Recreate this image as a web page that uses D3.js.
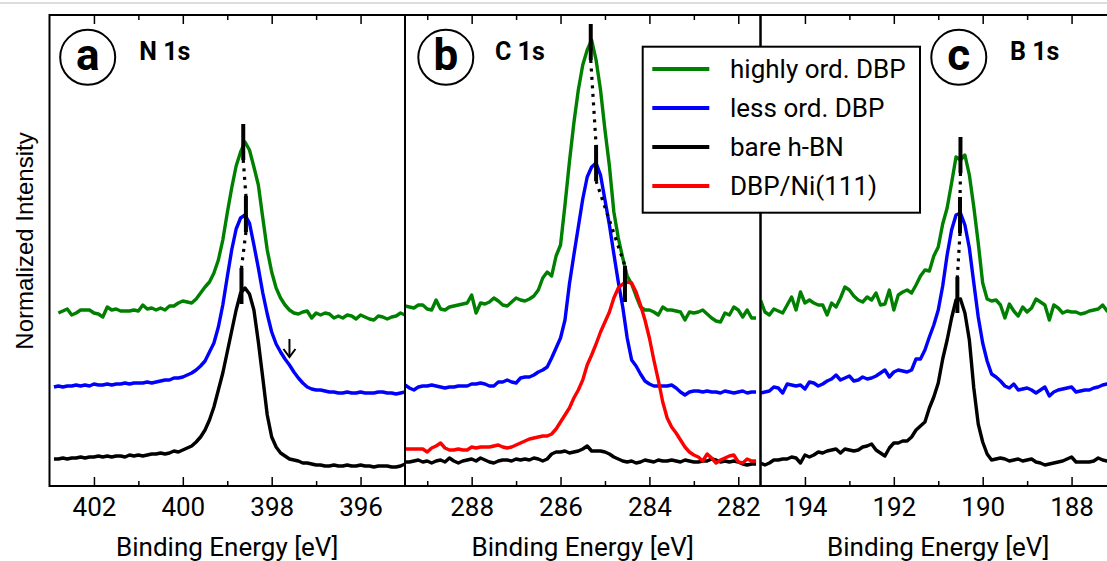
<!DOCTYPE html>
<html><head><meta charset="utf-8">
<script src="https://cdn.jsdelivr.net/npm/d3@7"></script>
<style>
html,body{margin:0;padding:0;background:#fff;}
svg{display:block;}
</style></head><body>
<svg id="chart" width="1107" height="561"></svg>
<script>
// ---------------- DATA ----------------
const seriesNames  = ["highly ord. DBP", "less ord. DBP", "bare h-BN", "DBP/Ni(111)"];
const seriesColors = ["#008000", "#0000ff", "#000000", "#ff0000"];

const panelLetters = ["a", "b", "c"];
const panelTitles  = ["N 1s", "C 1s", "B 1s"];
const panelDomains = [[403, 395], [289.5, 281.5], [195, 187]];

const majorTicksN = [402, 400, 398, 396];
const minorTicksN = [401, 399, 397];
const majorTicksC = [288, 286, 284, 282];
const minorTicksC = [289, 287, 285, 283];
const majorTicksB = [194, 192, 190, 188];
const minorTicksB = [193, 191, 189];

const xLabel = "Binding Energy [eV]";
const yLabel = "Normalized Intensity";
const stepEV = 0.1;          // sampling step of the spectra (eV)

// N 1s (intensity, arbitrary units incl. vertical offset), descending energy
const n1sGreenStart = 402.8;
const n1sGreen = [173,175,177,171,173,176,176,176,173,172,
  169,179,176,177,175,175,175,176,175,181,
  177,178,176,178,176,180,180,183,185,184,
  183,187,193,199,204,213,226,246,273,298,
  320,334,344,336,319,301,268,236,214,198,
  188,181,176,173,172,174,175,168,173,171,
  173,172,168,170,168,171,170,167,171,169,
  167,166,170,169,167,169,170,173,171];
const n1sBlueStart = 402.9;
const n1sBlue = [99,100,99,100,100,101,100,101,100,102,
  101,101,102,101,102,102,103,102,103,103,
  103,104,103,104,105,106,106,108,108,109,
  111,113,116,120,125,134,143,159,181,209,
  236,257,268,271,263,241,218,193,172,154,
  142,134,127,121,114,108,103,99,97,96,
  96,95,94,94,93,93,94,93,93,94,
  93,93,93,94,94,93,93,92,93,94];
const n1sBlackStart = 402.9;
const n1sBlack = [27,27,28,27,28,28,29,28,29,29,
  30,29,30,29,30,30,29,31,30,31,
  30,31,32,32,33,32,33,35,34,36,
  38,40,44,49,56,66,79,96,113,134,
  155,176,193,198,192,176,144,108,71,49,
  39,33,30,27,26,25,23,23,22,21,
  21,20,20,21,20,20,21,20,20,21,
  20,20,19,20,20,20,19,19,20,22];

// C 1s
const c1sStart = 289.5;
const c1sGreen = [180,179,178,181,181,177,176,186,177,176,
  179,180,181,182,183,191,173,183,182,184,
  188,185,181,180,184,188,186,185,187,190,
  196,208,214,210,230,241,281,324,363,396,
  421,436,446,426,396,356,320,274,248,228,
  210,202,190,179,176,176,174,171,179,176,
  176,175,174,166,174,173,174,176,172,168,
  165,164,173,171,179,176,169,176,168,168];
const c1sBlue = [101,98,96,99,100,100,101,100,99,98,
  99,99,100,100,100,102,102,103,102,100,
  100,104,104,106,104,103,108,109,109,111,
  114,116,119,128,138,148,166,202,231,259,
  287,309,319,323,311,286,261,232,204,179,
  148,126,120,112,105,102,100,100,100,100,
  101,98,94,91,94,95,95,94,95,94,
  94,93,95,94,93,94,95,93,94,94];
const c1sBlack = [24,24,25,26,24,25,23,25,26,24,
  28,25,23,25,26,27,25,28,26,24,
  23,25,26,26,25,27,26,27,26,28,
  27,25,27,32,34,34,35,33,34,35,
  37,40,35,35,35,34,32,29,27,25,
  24,25,23,24,26,25,24,26,25,25,
  26,25,24,26,25,24,24,25,25,27,
  26,24,25,24,25,24,22,21,22,22];
const c1sRed = [37,37,37,37,37,34,38,40,43,38,
  36,36,37,36,36,39,38,39,39,39,
  40,41,39,38,39,41,43,45,47,48,
  49,50,50,52,57,64,71,78,88,96,
  106,121,131,142,154,164,174,188,198,202,
  204,203,194,181,166,148,126,106,84,68,
  59,53,46,39,34,31,29,25,32,28,
  23,26,28,30,31,24,23,27,25,25];

// B 1s
const b1sStart = 195.0;
const b1sGreen = [186,174,171,177,175,173,181,189,176,194,
  183,186,183,181,181,171,183,179,188,199,
  196,190,186,184,189,186,193,181,182,196,
  176,191,194,196,193,201,210,216,215,230,
  239,262,278,303,329,326,331,311,279,243,
  203,187,185,186,181,168,182,175,170,179,
  174,178,187,184,181,166,181,178,173,175,
  174,174,172,173,175,176,177,181,175,174,
  176];
const b1sBlue = [93,94,95,99,98,93,102,101,100,101,
  97,104,103,100,102,105,107,111,106,108,
  110,105,106,109,107,108,110,113,116,109,
  114,116,115,114,116,127,127,136,149,161,
  176,200,231,256,271,273,261,238,203,169,
  143,125,112,109,105,100,98,102,96,97,
  98,96,93,96,99,90,94,96,97,98,
  99,94,95,96,96,98,99,101,102,102,
  102];
const b1sBlack = [23,21,23,26,26,27,27,29,28,23,
  31,29,31,34,33,35,36,37,33,37,
  36,35,36,39,40,42,36,33,30,38,
  43,43,45,45,49,56,60,64,78,89,
  103,127,146,168,186,187,173,146,98,62,
  44,32,26,27,28,27,25,26,27,25,
  26,27,24,23,21,22,23,24,25,27,
  29,24,24,24,24,25,28,26,25,26,
  26];

// peak position markers (energy, intensity) per panel
const n1sPeakE = [398.64, 398.58, 398.68];
const n1sPeakI = [344, 272, 200];
const c1sPeakE = [285.32, 285.20, 284.55];
const c1sPeakI = [444, 323, 202];
const b1sPeakE = [190.50, 190.51, 190.57];
const b1sPeakI = [331, 271, 191];

// arrow annotation in N 1s (energy, intensity from -> to)
const arrowE = 397.6;
const arrowI = [147, 129];

// ---------------- LAYOUT ----------------
const svg = d3.select("#chart");
const TOP = 15, BOTTOM = 486;
const panelLeft = [49.5, 405, 760.5];
const panelW = 355.5;
const y = d3.scaleLinear().domain([0, 471]).range([BOTTOM, TOP]);
const tickFont = "Roboto, 'DejaVu Sans', sans-serif";

const toPoints = (start, vals) => vals.map((v, i) => [+(start - i * stepEV).toFixed(2), v]);

const panels = [
  { series: [[0, n1sGreenStart, n1sGreen], [1, n1sBlueStart, n1sBlue], [2, n1sBlackStart, n1sBlack]],
    major: majorTicksN, minor: minorTicksN, peakE: n1sPeakE, peakI: n1sPeakI },
  { series: [[0, c1sStart, c1sGreen], [1, c1sStart, c1sBlue], [2, c1sStart, c1sBlack], [3, c1sStart, c1sRed]],
    major: majorTicksC, minor: minorTicksC, peakE: c1sPeakE, peakI: c1sPeakI },
  { series: [[0, b1sStart, b1sGreen], [1, b1sStart, b1sBlue], [2, b1sStart, b1sBlack]],
    major: majorTicksB, minor: minorTicksB, peakE: b1sPeakE, peakI: b1sPeakI }
];

// faint line at very top
svg.append("line").attr("x1", 0).attr("x2", 1107).attr("y1", 3).attr("y2", 3)
  .attr("stroke", "#dcdcdc").attr("stroke-width", 2);

const defs = svg.append("defs");

panels.forEach((p, pi) => {
  const x0 = panelLeft[pi];
  const x = d3.scaleLinear().domain(panelDomains[pi]).range([x0, x0 + panelW]);
  const g = svg.append("g");

  defs.append("clipPath").attr("id", "clip" + pi)
    .append("rect").attr("x", x0).attr("y", TOP).attr("width", panelW).attr("height", BOTTOM - TOP);

  const lineGen = d3.line().x(d => x(d[0])).y(d => y(d[1]));
  const dataG = g.append("g").attr("clip-path", `url(#clip${pi})`);
  p.series.forEach(([si, start, vals]) => {
    dataG.append("path").datum(toPoints(start, vals))
      .attr("d", lineGen).attr("fill", "none")
      .attr("stroke", seriesColors[si]).attr("stroke-width", 3.4)
      .attr("stroke-linejoin", "round");
  });

  // peak markers: thick bars + dotted connectors
  const half = 18;
  for (let k = 0; k < p.peakE.length - 1; k++) {
    g.append("line")
      .attr("x1", x(p.peakE[k])).attr("y1", y(p.peakI[k]) + half)
      .attr("x2", x(p.peakE[k + 1])).attr("y2", y(p.peakI[k + 1]) - half)
      .attr("stroke", "#000").attr("stroke-width", 3.2).attr("stroke-dasharray", "3,5.5");
  }
  p.peakE.forEach((e, k) => {
    g.append("line")
      .attr("x1", x(e)).attr("x2", x(e))
      .attr("y1", y(p.peakI[k]) - half).attr("y2", y(p.peakI[k]) + half)
      .attr("stroke", "#000").attr("stroke-width", 4);
  });

  // axes (ticks inside, top and bottom)
  const bottomMajor = d3.axisBottom(x).tickValues(p.major).tickSize(-9).tickPadding(12).tickFormat(d3.format("d"));
  const bottomMinor = d3.axisBottom(x).tickValues(p.minor).tickSize(-5).tickFormat("");
  const topMajor = d3.axisTop(x).tickValues(p.major).tickSize(-9).tickFormat("");
  const topMinor = d3.axisTop(x).tickValues(p.minor).tickSize(-5).tickFormat("");

  const bm = g.append("g").attr("transform", `translate(0,${BOTTOM})`).call(bottomMajor);
  g.append("g").attr("transform", `translate(0,${BOTTOM})`).call(bottomMinor);
  g.append("g").attr("transform", `translate(0,${TOP})`).call(topMajor);
  g.append("g").attr("transform", `translate(0,${TOP})`).call(topMinor);
  g.selectAll(".domain").remove();
  g.selectAll(".tick line").attr("stroke", "#000").attr("stroke-width", 1.5);
  bm.selectAll(".tick text").attr("font-family", tickFont).attr("font-size", 26).attr("fill", "#000");

  // frame
  g.append("rect").attr("x", x0).attr("y", TOP).attr("width", panelW).attr("height", BOTTOM - TOP)
    .attr("fill", "none").attr("stroke", "#000").attr("stroke-width", 2);

  // x label
  g.append("text").attr("x", x0 + panelW / 2).attr("y", 556).attr("text-anchor", "middle")
    .attr("font-family", tickFont).attr("font-size", 26).text(xLabel);
});

// panel letters + titles
const letterCX = [87.7, 445.8, 958.8];
const titleX = [139.3, 495, 1010];
letterCX.forEach((cx, i) => {
  svg.append("circle").attr("cx", cx).attr("cy", 57.3).attr("r", 27.5)
    .attr("fill", "#fff").attr("stroke", "#000").attr("stroke-width", 2);
  svg.append("text").attr("x", cx).attr("y", 70).attr("text-anchor", "middle")
    .attr("font-family", tickFont).attr("font-weight", "bold").attr("font-size", 44).text(panelLetters[i]);
  svg.append("text").attr("x", titleX[i]).attr("y", 60)
    .attr("font-family", tickFont).attr("font-weight", "bold").attr("font-size", 25).text(panelTitles[i]);
});

// arrow in panel a
{
  const xa = d3.scaleLinear().domain(panelDomains[0]).range([panelLeft[0], panelLeft[0] + panelW]);
  const ax = xa(arrowE);
  const y1 = y(arrowI[0]), y2 = y(arrowI[1]);
  svg.append("line").attr("x1", ax).attr("x2", ax).attr("y1", y1).attr("y2", y2)
    .attr("stroke", "#000").attr("stroke-width", 2);
  svg.append("path").attr("d", `M${ax - 6},${y2 - 8} L${ax},${y2} L${ax + 6},${y2 - 8}`)
    .attr("fill", "none").attr("stroke", "#000").attr("stroke-width", 2);
}

// y label
svg.append("text").attr("transform", "translate(33,241) rotate(-90)")
  .attr("text-anchor", "middle").attr("font-family", "'Liberation Sans', Arial, sans-serif")
  .attr("font-size", 24).text(yLabel);

// legend
{
  const lx = 642.7, ly = 46.7, lw = 277.3, lh = 166;
  const lg = svg.append("g");
  lg.append("rect").attr("x", lx).attr("y", ly).attr("width", lw).attr("height", lh)
    .attr("fill", "#fff").attr("stroke", "#000").attr("stroke-width", 2);
  const rowY = d3.scaleLinear().domain([0, 3]).range([69, 186]);
  seriesNames.forEach((name, i) => {
    lg.append("line").attr("x1", 652.3).attr("x2", 709.3).attr("y1", rowY(i)).attr("y2", rowY(i))
      .attr("stroke", seriesColors[i]).attr("stroke-width", 4);
    lg.append("text").attr("x", 730).attr("y", rowY(i)).attr("dy", "0.36em")
      .attr("font-family", tickFont).attr("font-size", 26).text(name);
  });
}
</script>
</body></html>
